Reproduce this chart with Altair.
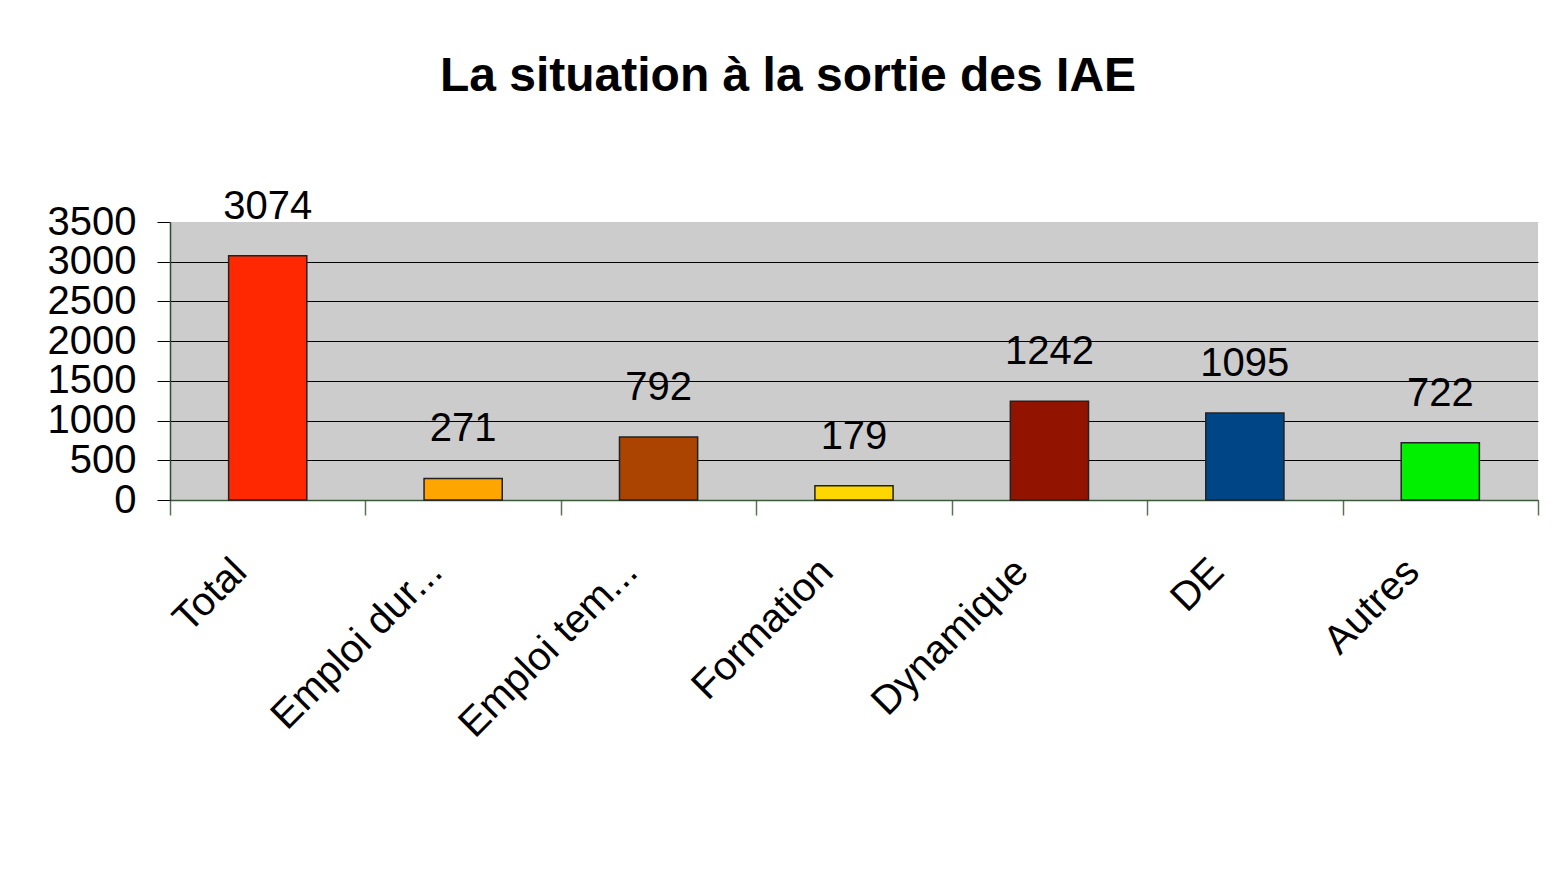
import altair as alt
import pandas as pd

categories = ["Total", "Emploi dur...", "Emploi tem...", "Formation", "Dynamique", "DE", "Autres"]
values = [3074, 271, 792, 179, 1242, 1095, 722]
colors = ["#FF2800", "#FFA500", "#AA4400", "#FFD700", "#921400", "#004586", "#00F000"]
y_ticks = [0, 500, 1000, 1500, 2000, 2500, 3000, 3500]

df = pd.DataFrame({"cat": categories, "val": values, "col": colors})

W, H = 1368, 278

x_enc = alt.X(
    "cat:N",
    sort=categories,
    scale=alt.Scale(paddingInner=0, paddingOuter=0),
    axis=alt.Axis(
        title=None,
        labelAngle=-45,
        labelAlign="right",
        labelBaseline="top",
        labelFontSize=40,
        labelFont="Liberation Sans",
        labelColor="#000000",
        labelPadding=36,
        labelOffset=-42,
        labelLimit=0,
        labelOverlap=False,
        tickBand="extent",
        tickSize=15,
        tickColor="#5A705A",
        tickWidth=1.5,
        domainColor="#3E5A3E",
        domainWidth=1.5,
        grid=False,
    ),
)

y_enc = alt.Y(
    "val:Q",
    scale=alt.Scale(domain=[0, 3500], nice=False, zero=True),
    axis=alt.Axis(
        title=None,
        values=y_ticks,
        tickCount=8,
        format="d",
        labelOverlap=False,
        labelFontSize=40,
        labelFont="Liberation Sans",
        labelColor="#000000",
        labelPadding=21,
        tickSize=13,
        tickColor="#000000",
        tickWidth=1,
        domainColor="#2E4A2E",
        domainWidth=1.5,
        grid=True,
        gridColor={"condition": {"test": "datum.value >= 3500", "value": "#CCCCCC"}, "value": "#000000"},
        gridWidth=1,
        gridOpacity=1,
    ),
)

base = alt.Chart(df).encode(x=x_enc, y=y_enc)

bars = base.mark_bar(
    width=alt.RelativeBandSize(0.4),
    stroke="#222222",
    strokeWidth=1.5,
).encode(
    color=alt.Color("col:N", scale=None),
)

labels = base.mark_text(
    baseline="alphabetic",
    align="center",
    dy=-37,
    fontSize=40,
    font="Liberation Sans",
    color="#000000",
).encode(
    text=alt.Text("val:Q"),
)

chart = (
    alt.layer(bars, labels)
    .properties(
        width=W,
        height=H,
        autosize=alt.AutoSizeParams(type="none"),
        padding={"left": 162, "top": 214, "right": 19, "bottom": 370},
        title=alt.TitleParams(
            "La situation à la sortie des IAE",
            font="Liberation Sans Narrow, Arial Narrow, Liberation Sans",
            fontSize=48,
            fontWeight="bold",
            color="#000000",
            anchor="middle",
            dx=-66,
            dy=-66,
            offset=20,
        ),
        background="#FFFFFF",
    )
    .configure_view(fill="#CCCCCC", stroke=None)
)

chart.save("out.html", embed_options={"renderer": "svg", "actions": False})
